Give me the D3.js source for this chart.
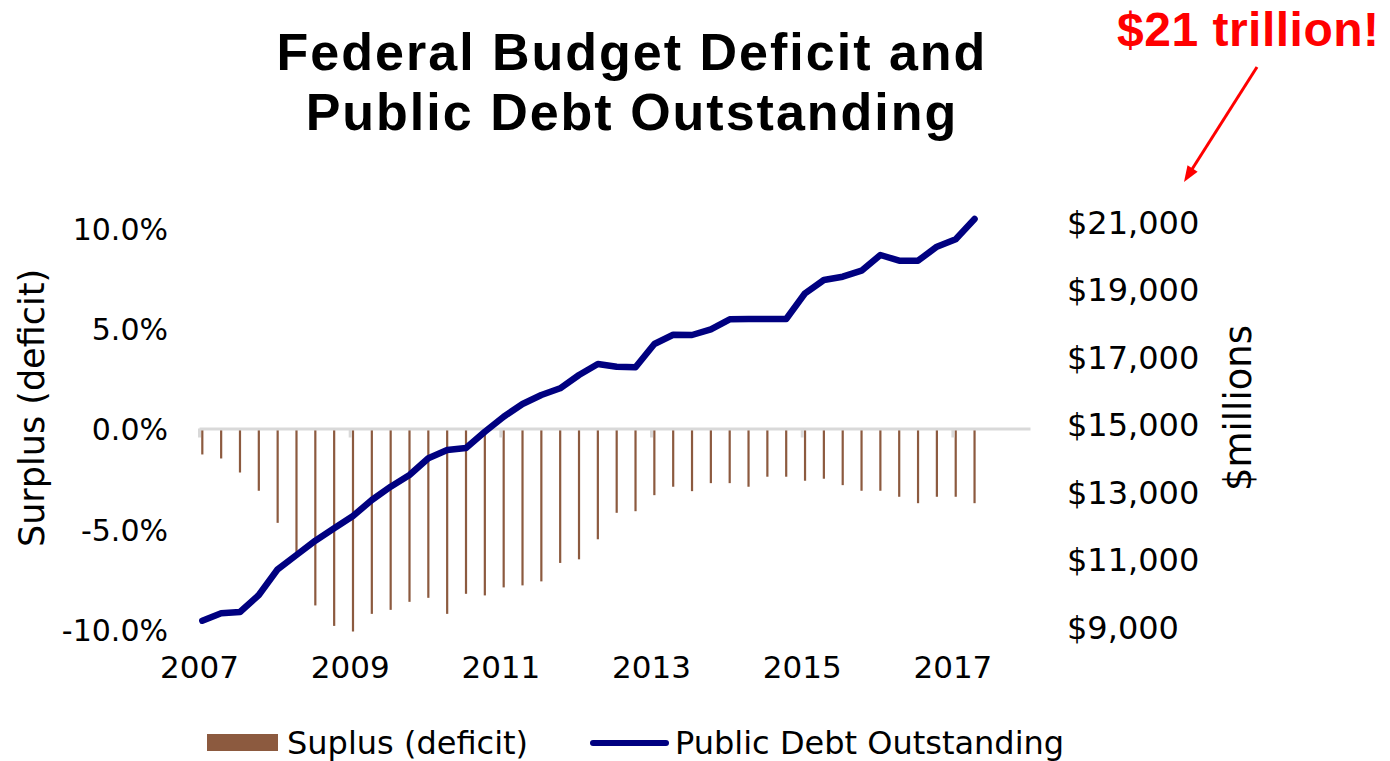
<!DOCTYPE html>
<html>
<head>
<meta charset="utf-8">
<script src="https://cdn.jsdelivr.net/npm/d3@7/dist/d3.min.js"></script>
<style>
  html, body { margin: 0; padding: 0; background: #fff; }
  svg { display: block; }
</style>
</head>
<body>
<script>
// Quarterly periods shown on the chart
const quarters = [
  "2007Q1","2007Q2","2007Q3","2007Q4","2008Q1","2008Q2","2008Q3","2008Q4",
  "2009Q1","2009Q2","2009Q3","2009Q4","2010Q1","2010Q2","2010Q3","2010Q4",
  "2011Q1","2011Q2","2011Q3","2011Q4","2012Q1","2012Q2","2012Q3","2012Q4",
  "2013Q1","2013Q2","2013Q3","2013Q4","2014Q1","2014Q2","2014Q3","2014Q4",
  "2015Q1","2015Q2","2015Q3","2015Q4","2016Q1","2016Q2","2016Q3","2016Q4",
  "2017Q1","2017Q2"
];

// Surplus (deficit) as % of GDP
const surplus = [
  -1.27, -1.47, -2.17, -3.08, -4.68, -6.3, -8.8, -9.82,
  -10.1, -9.22, -9.02, -8.62, -8.42, -9.22, -8.22, -8.3,
  -7.9, -7.8, -7.6, -6.68, -6.5, -5.5, -4.18, -4.1,
  -3.3, -2.88, -3.1, -2.7, -2.7, -2.88, -2.38, -2.38,
  -2.58, -2.48, -2.8, -3.08, -3.08, -3.38, -3.7, -3.38,
  -3.38, -3.7
];

// Public debt outstanding, $ millions
const debt = [
  9178, 9397, 9436, 9939, 10701, 11124, 11548, 11916,
  12280, 12754, 13148, 13495, 13990, 14236, 14295, 14778,
  15222, 15599, 15865, 16064, 16458, 16785, 16704, 16686,
  17376, 17650, 17643, 17812, 18108, 18117, 18117, 18117,
  18879, 19273, 19370, 19548, 20013, 19844, 19844, 20259,
  20480, 21080
];

const leftTicks = [-10, -5, 0, 5, 10];
const rightTicks = [9000, 11000, 13000, 15000, 17000, 19000, 21000];
const yearTicks = [2007, 2009, 2011, 2013, 2015, 2017];

const titleLines = ["Federal Budget Deficit and", "Public Debt Outstanding"];
const seriesNames = ["Suplus (deficit)", "Public Debt Outstanding"];

const W = 1390, H = 761;
const BAR_COLOR = "#8c5a3f";
const LINE_COLOR = "#000080";
const GRID_COLOR = "#d9d9d9";
const FONT = "'DejaVu Sans', Verdana, sans-serif";

const svg = d3.select("body").append("svg")
  .attr("width", W).attr("height", H);

// Quarter label -> fractional year (bars sit just past the quarter start)
const toYear = q => +q.slice(0, 4) + (+q.slice(5) - 1) * 0.25 + 0.044;

const x = d3.scaleLinear().domain([2007, 2018.03]).range([199, 1030]);
const yL = d3.scaleLinear().domain([-10, 10]).range([629.5, 228.5]);
const yR = d3.scaleLinear().domain([9000, 21000]).range([626.7, 221.7]);

const data = quarters.map((q, i) => ({ t: toYear(q), s: surplus[i], d: debt[i] }));

// Deficit bars
svg.append("g").selectAll("rect")
  .data(data)
  .join("rect")
  .attr("x", d => x(d.t) - 1.1)
  .attr("width", 2.2)
  .attr("y", d => Math.min(yL(0), yL(d.s)))
  .attr("height", d => Math.abs(yL(d.s) - yL(0)))
  .attr("fill", BAR_COLOR);

// Zero line with year ticks
const zeroAxis = svg.append("g")
  .attr("transform", `translate(0,${yL(0) - 0.5})`)
  .call(d3.axisBottom(x).tickValues(yearTicks).tickSize(9).tickSizeOuter(0).tickFormat(""));
zeroAxis.select(".domain").attr("stroke", GRID_COLOR).attr("stroke-width", 3);
zeroAxis.selectAll(".tick line").attr("stroke", GRID_COLOR).attr("stroke-width", 3);

// Year labels along the bottom
const yearAxis = svg.append("g")
  .attr("transform", "translate(0,678)")
  .call(d3.axisBottom(x).tickValues(yearTicks).tickSize(0).tickFormat(d3.format("d")));
yearAxis.select(".domain").remove();
yearAxis.selectAll("text")
  .attr("y", 0).attr("dy", 0)
  .style("font-family", FONT).style("font-size", "31px").attr("fill", "#000");

// Left axis: surplus (deficit) percent
const leftAxis = svg.append("g")
  .attr("transform", "translate(168,0)")
  .call(d3.axisLeft(yL).tickValues(leftTicks).tickSize(0).tickPadding(0)
    .tickFormat(d => d.toFixed(1) + "%"));
leftAxis.select(".domain").remove();
leftAxis.selectAll("text")
  .attr("dy", "0.36em")
  .style("font-family", FONT).style("font-size", "30px").attr("fill", "#000");

// Right axis: debt in $ millions
const rightAxis = svg.append("g")
  .attr("transform", "translate(1067,0)")
  .call(d3.axisRight(yR).tickValues(rightTicks).tickSize(0).tickPadding(0)
    .tickFormat(d => "$" + d3.format(",")(d)));
rightAxis.select(".domain").remove();
rightAxis.selectAll("text")
  .attr("dy", "0.36em")
  .style("font-family", FONT).style("font-size", "32px").attr("fill", "#000");

// Debt line
svg.append("path")
  .datum(data)
  .attr("fill", "none")
  .attr("stroke", LINE_COLOR)
  .attr("stroke-width", 6.5)
  .attr("stroke-linejoin", "round")
  .attr("stroke-linecap", "round")
  .attr("d", d3.line().x(d => x(d.t)).y(d => yR(d.d)));

// Axis titles
svg.append("text")
  .attr("transform", "translate(44,408) rotate(-90)")
  .attr("text-anchor", "middle")
  .style("font-family", FONT).style("font-size", "35px")
  .text("Surplus (deficit)");

svg.append("text")
  .attr("transform", "translate(1251,408) rotate(-90)")
  .attr("text-anchor", "middle")
  .style("font-family", FONT).style("font-size", "37px")
  .text("$millions");

// Chart title
svg.append("g").selectAll("text")
  .data(titleLines)
  .join("text")
  .attr("x", 632)
  .attr("y", (d, i) => 69.5 + i * 60.5)
  .attr("text-anchor", "middle")
  .style("font-family", "'Liberation Sans', Arial, sans-serif")
  .style("font-weight", "bold")
  .style("font-size", "52px")
  .style("letter-spacing", "2px")
  .text(d => d);

// Callout
svg.append("text")
  .attr("x", 1117).attr("y", 46)
  .style("font-family", "'Liberation Sans', Arial, sans-serif")
  .style("font-weight", "bold")
  .style("font-size", "48px")
  .style("letter-spacing", "0.5px")
  .attr("fill", "#ff0000")
  .text("$21 trillion!");

const tip = [1184, 182], tail = [1257, 67];
svg.append("line")
  .attr("x1", tail[0]).attr("y1", tail[1])
  .attr("x2", tip[0] + 5).attr("y2", tip[1] - 8)
  .attr("stroke", "#ff0000").attr("stroke-width", 3);
{
  const ang = Math.atan2(tip[1] - tail[1], tip[0] - tail[0]);
  const len = 16, half = 6;
  const bx = tip[0] - len * Math.cos(ang), by = tip[1] - len * Math.sin(ang);
  const px = -Math.sin(ang) * half, py = Math.cos(ang) * half;
  svg.append("polygon")
    .attr("points", `${tip[0]},${tip[1]} ${bx + px},${by + py} ${bx - px},${by - py}`)
    .attr("fill", "#ff0000");
}

// Legend
const legend = svg.append("g");
legend.append("rect")
  .attr("x", 207).attr("y", 734).attr("width", 71).attr("height", 17)
  .attr("fill", BAR_COLOR);
legend.append("text")
  .attr("x", 287).attr("y", 754)
  .style("font-family", FONT).style("font-size", "32px")
  .text(seriesNames[0]);
legend.append("line")
  .attr("x1", 593).attr("x2", 666).attr("y1", 743).attr("y2", 743)
  .attr("stroke", LINE_COLOR).attr("stroke-width", 6).attr("stroke-linecap", "round");
legend.append("text")
  .attr("x", 675).attr("y", 754)
  .style("font-family", FONT).style("font-size", "32px")
  .text(seriesNames[1]);
</script>
</body>
</html>
